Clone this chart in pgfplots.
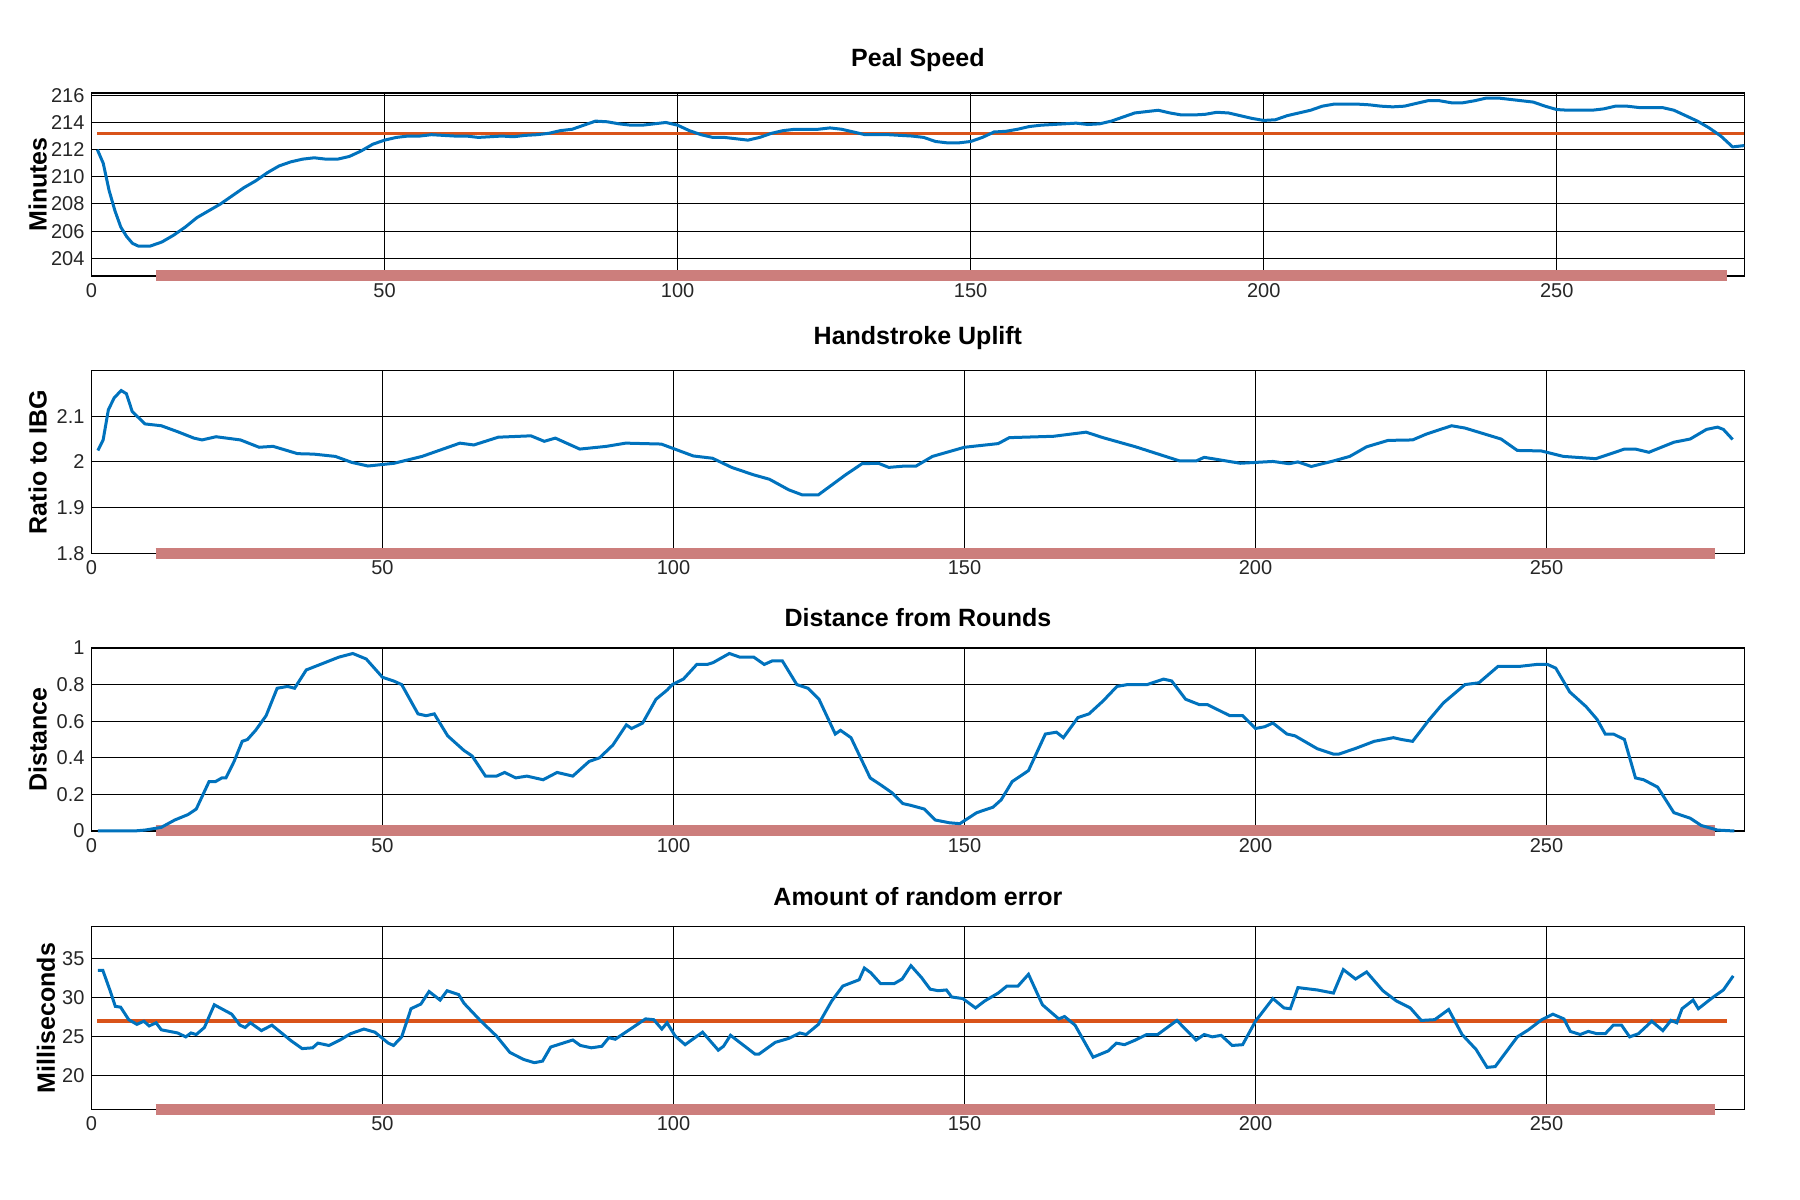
\documentclass[border=0pt]{standalone}
\usepackage{pgfplots}
\pgfplotsset{compat=1.18}
\usepackage{fontspec}
\setmainfont{Liberation Sans}
\definecolor{bl}{RGB}{0,114,189}
\definecolor{orng}{RGB}{217,83,25}
\definecolor{rbar}{RGB}{204,126,124}
\pgfplotsset{
  panel/.style={
    scale only axis, width=826.4pt, height=91.5pt, anchor=south west,
    xmin=0, grid=major, major grid style={black, line width=0.5pt},
    axis line style={black, line width=0.6pt},
    major tick length=0pt, xtick={0,50,100,150,200,250},
    tick label style={font=\fontsize{10}{12}\selectfont, text=black!85},
    /pgf/number format/assume math mode=true,
    title style={font=\bfseries\fontsize{12.5}{14}\selectfont, at={(0.5,1)}, anchor=south, yshift=1pt},
    clip=false,
  },
  bluel/.style={color=bl, line width=1.5pt, no marks},
  orl/.style={color=orng, line width=1.8pt, no marks},
  redbar/.style={color=rbar, line width=5.5pt, no marks},
}
\begin{document}
\begin{tikzpicture}
\path[use as bounding box] (0,0) rectangle (900pt,600pt);
% Panel 1
\begin{axis}[panel, at={(45.75pt,462pt)}, xmax=282, ymin=202.7, ymax=216.17,
  ytick={204,206,208,210,212,214,216}, title={Peal Speed}, ylabel={Minutes},
  every axis y label/.style={at={(axis description cs:-0.0326,0.5)},rotate=90,anchor=center,font=\bfseries\fontsize{12.5}{14}\selectfont}]
\addplot[redbar] coordinates {(11,202.7) (279,202.7)};
\addplot[orl] coordinates {(1,213.2) (282,213.2)};
\addplot[bluel] coordinates {
(1,212)(2,211)(3,209)(4,207.5)(5,206.3)(6,205.6)(7,205.1)(8,204.9)(10,204.9)(12,205.2)(14,205.7)(16,206.3)(18,207)(20,207.5)(22,208)(24,208.6)(26,209.2)(28,209.7)(30,210.3)(32,210.8)(34,211.1)(36,211.3)(38,211.4)(40,211.3)(42,211.3)(44,211.5)(46,211.9)(48,212.4)(50,212.7)(52,212.9)(54,213.0)(56,213.0)(58,213.1)(60,213.05)(62,213.0)(64,213.0)(66,212.9)(68,212.95)(70,213.0)(72,212.95)(74,213.05)(76,213.1)(78,213.2)(80,213.4)(82,213.5)(84,213.8)(86,214.1)(88,214.05)(90,213.9)(92,213.8)(94,213.8)(96,213.9)(98,214.0)(100,213.8)(102,213.4)(104,213.1)(106,212.9)(108,212.9)(110,212.8)(112,212.7)(114,212.9)(116,213.2)(118,213.4)(120,213.5)(122,213.5)(124,213.5)(126,213.6)(128,213.5)(130,213.3)(132,213.1)(134,213.1)(136,213.1)(138,213.05)(140,213.0)(142,212.9)(144,212.6)(146,212.5)(148,212.5)(150,212.6)(152,212.9)(154,213.3)(156,213.35)(158,213.5)(160,213.7)(162,213.8)(164,213.85)(166,213.9)(168,213.95)(170,213.85)(172,213.9)(174,214.1)(176,214.4)(178,214.7)(180,214.8)(182,214.9)(184,214.7)(186,214.55)(188,214.55)(190,214.6)(192,214.75)(194,214.7)(196,214.5)(198,214.3)(200,214.15)(202,214.2)(204,214.5)(206,214.7)(208,214.9)(210,215.2)(212,215.35)(214,215.35)(216,215.35)(218,215.3)(220,215.2)(222,215.15)(224,215.2)(226,215.4)(228,215.6)(230,215.6)(232,215.45)(234,215.45)(236,215.6)(238,215.8)(240,215.8)(242,215.7)(244,215.6)(246,215.5)(248,215.2)(250,214.95)(252,214.9)(254,214.9)(256,214.9)(258,215.0)(260,215.2)(262,215.2)(264,215.1)(266,215.1)(268,215.1)(270,214.9)(272,214.5)(274,214.1)(276,213.6)(278,213.0)(280,212.2)(282,212.3)};
\end{axis}
% Panel 2
\begin{axis}[panel, at={(45.75pt,323.3pt)}, xmax=284, ymin=1.8, ymax=2.2,
  ytick={1.8,1.9,2,2.1}, yticklabels={1.8,1.9,2,2.1}, title={Handstroke Uplift}, ylabel={Ratio to IBG},
  every axis y label/.style={at={(axis description cs:-0.0326,0.5)},rotate=90,anchor=center,font=\bfseries\fontsize{12.5}{14}\selectfont}]
\addplot[redbar] coordinates {(11,1.8) (279,1.8)};
\addplot[bluel] coordinates {
(1.1,2.025)(2,2.048)(2.9,2.114)(3.9,2.14)(5.1,2.156)(6,2.149)(7,2.11)(9.2,2.083)(12,2.079)(14.8,2.066)(17.6,2.052)(19,2.048)(21.4,2.055)(25.6,2.048)(28.8,2.032)(31.2,2.034)(35.4,2.018)(38.2,2.017)(41.9,2.012)(44.7,1.999)(47.5,1.991)(52,1.997)(56.8,2.012)(63.3,2.041)(65.7,2.037)(69.9,2.054)(75.5,2.057)(77.8,2.045)(79.7,2.052)(83.9,2.028)(88.5,2.034)(91.8,2.041)(97.9,2.039)(103.4,2.013)(106.7,2.008)(110,1.988)(113.7,1.972)(116.5,1.962)(119.8,1.939)(122.1,1.928)(124.9,1.928)(129.6,1.972)(132.4,1.996)(135.2,1.997)(137,1.988)(139.8,1.991)(141.7,1.991)(144.5,2.012)(150,2.032)(155.8,2.04)(157.7,2.053)(165.3,2.056)(170.9,2.065)(173.8,2.053)(179.4,2.033)(187,2.002)(189.8,2.002)(191.2,2.010)(197.4,1.997)(203,2.001)(205.8,1.996)(207.3,2.0)(209.6,1.99)(213.4,2.002)(216.2,2.012)(219.1,2.033)(222.8,2.047)(227,2.048)(229.4,2.061)(233.7,2.079)(236,2.074)(242.2,2.05)(245,2.025)(249.1,2.024)(252.9,2.012)(258.5,2.007)(263.4,2.028)(265.3,2.028)(267.6,2.021)(271.9,2.043)(274.7,2.05)(277.5,2.071)(279.4,2.076)(280.4,2.071)(282,2.049)};
\end{axis}
% Panel 3
\begin{axis}[panel, at={(45.75pt,184.5pt)}, xmax=284, ymin=0, ymax=1,
  ytick={0,0.2,0.4,0.6,0.8,1}, yticklabels={0,0.2,0.4,0.6,0.8,1}, title={Distance from Rounds}, ylabel={Distance},
  every axis y label/.style={at={(axis description cs:-0.0326,0.5)},rotate=90,anchor=center,font=\bfseries\fontsize{12.5}{14}\selectfont}]
\addplot[redbar] coordinates {(11,0) (279,0)};
\addplot[bluel] coordinates {
(1.1,0)(7.3,0)(9.2,0.005)(12,0.02)(14.3,0.06)(16.6,0.09)(18,0.12)(20.2,0.27)(21.3,0.27)(22.4,0.29)(23.1,0.29)(24.5,0.38)(25.9,0.49)(26.8,0.50)(28.2,0.55)(30,0.63)(31.9,0.78)(33.7,0.79)(34.9,0.78)(36.9,0.88)(39.3,0.91)(42.5,0.95)(44.9,0.97)(47.2,0.94)(50,0.84)(51.9,0.82)(53.3,0.80)(56.1,0.64)(57.5,0.63)(58.9,0.64)(61.2,0.52)(64,0.44)(65.4,0.41)(67.7,0.30)(69.6,0.30)(71,0.32)(72.9,0.29)(74.8,0.30)(77.6,0.28)(80,0.32)(82.7,0.30)(85.5,0.38)(87.3,0.40)(89.6,0.47)(91.9,0.58)(92.8,0.56)(94.7,0.59)(97,0.72)(98.9,0.77)(99.8,0.80)(101.7,0.83)(104,0.91)(105.8,0.91)(106.8,0.92)(109.6,0.97)(111.4,0.95)(113.8,0.95)(115.6,0.91)(117,0.93)(118.7,0.93)(121.2,0.80)(123.1,0.78)(125,0.72)(127.8,0.53)(128.7,0.55)(130.5,0.51)(133.8,0.29)(135.7,0.25)(137.5,0.21)(139.4,0.15)(140.8,0.14)(143.1,0.12)(145,0.06)(147.4,0.045)(149.2,0.04)(152.1,0.10)(154.9,0.13)(156.3,0.17)(158.2,0.27)(161,0.33)(163.9,0.53)(165.8,0.54)(167,0.51)(169.5,0.62)(171.4,0.64)(173.8,0.71)(176.2,0.79)(178,0.80)(181.4,0.80)(184.2,0.83)(185.6,0.82)(188,0.72)(190.4,0.69)(191.8,0.69)(195.6,0.63)(197.8,0.63)(200,0.56)(201.6,0.57)(203,0.59)(205.4,0.53)(206.8,0.52)(210.6,0.45)(213.4,0.42)(214.3,0.42)(217.1,0.45)(220.4,0.49)(223.7,0.51)(225.1,0.50)(227,0.49)(229.9,0.61)(232.3,0.70)(236,0.80)(238.4,0.81)(241.7,0.90)(245.5,0.90)(248.3,0.91)(250.2,0.91)(251.6,0.89)(254,0.76)(256.8,0.68)(258.7,0.61)(260.1,0.53)(261.5,0.53)(263.4,0.50)(265.3,0.29)(266.7,0.28)(269.1,0.24)(271.9,0.10)(274.7,0.07)(276.6,0.03)(279.4,0.005)(282.3,0)};
\end{axis}
% Panel 4
\begin{axis}[panel, at={(45.75pt,45.2pt)}, xmax=284, ymin=15.7, ymax=39.1,
  ytick={20,25,30,35}, title={Amount of random error}, ylabel={Milliseconds},
  every axis y label/.style={at={(axis description cs:-0.0275,0.5)},rotate=90,anchor=center,font=\bfseries\fontsize{12.5}{14}\selectfont}]
\addplot[redbar] coordinates {(11,15.7) (279,15.7)};
\addplot[orl] coordinates {(1,27.05) (281,27.05)};
\addplot[bluel] coordinates {
(1.1,33.5)(1.95,33.5)(3.2,30.9)(4.1,28.9)(5,28.8)(6.4,27.2)(7.8,26.6)(9,27.0)(9.9,26.4)(11.1,26.8)(12,25.9)(14.8,25.5)(16.2,25.0)(17.1,25.5)(18,25.3)(19.4,26.2)(21.1,29.1)(24.1,27.9)(25.5,26.5)(26.4,26.2)(27.3,26.8)(29.2,25.8)(31,26.5)(34.3,24.5)(36.2,23.5)(38,23.6)(38.9,24.2)(40.8,23.9)(42.7,24.6)(44.5,25.4)(46.8,26.0)(48.7,25.6)(51,24.2)(51.9,23.9)(53.3,25)(54.9,28.6)(56.6,29.2)(58,30.8)(59.9,29.7)(61.1,30.9)(63.1,30.4)(64,29.3)(66.8,27.1)(69.6,25.1)(71.9,23.0)(74.3,22.1)(76.1,21.7)(77.5,21.9)(78.9,23.7)(82.7,24.6)(84,23.9)(85.9,23.6)(87.7,23.8)(88.9,24.9)(90,24.7)(92.8,26.1)(95.2,27.3)(96.6,27.2)(98,26.0)(98.9,26.8)(100.3,25.1)(102,24.0)(105,25.6)(107.7,23.3)(108.6,23.8)(109.8,25.2)(114,22.8)(114.7,22.8)(117.5,24.3)(119.8,24.8)(121.7,25.5)(122.8,25.3)(124.9,26.6)(127.2,29.6)(129.1,31.5)(131.9,32.3)(132.8,33.8)(133.9,33.2)(135.6,31.8)(137.9,31.8)(139.3,32.4)(140.8,34.1)(142.6,32.6)(144.1,31.1)(145.5,30.9)(146.9,31.0)(147.8,30.1)(149.7,29.9)(151.9,28.7)(153.5,29.6)(155.8,30.6)(157.3,31.5)(159.2,31.5)(161,33.0)(163.4,29.1)(166.2,27.3)(167.2,27.6)(169,26.5)(172.1,22.4)(174.7,23.2)(176.1,24.2)(177.5,24.0)(179.4,24.6)(181.3,25.3)(183.2,25.3)(186.5,27.1)(189.8,24.6)(191.2,25.3)(192.6,25.0)(194.1,25.2)(196,23.9)(197.8,24.0)(200,27.0)(203,29.9)(204.9,28.7)(206,28.6)(207.3,31.3)(210.6,31.0)(213.4,30.6)(215.1,33.6)(217.2,32.4)(219.1,33.3)(221.9,30.9)(224.2,29.6)(226.6,28.7)(228.5,27.1)(230.8,27.2)(233.2,28.5)(235.5,25.3)(237.9,23.4)(239.8,21.1)(241.2,21.2)(242.6,22.6)(245,25.0)(246.9,25.9)(249.2,27.2)(251.1,27.9)(253,27.3)(254.1,25.7)(255.8,25.3)(257.2,25.7)(258.7,25.4)(260.1,25.4)(261.5,26.5)(262.9,26.5)(264.3,25.0)(265.8,25.4)(268.1,27.0)(270,25.8)(271.4,27.1)(272.4,26.8)(273.3,28.6)(275.2,29.7)(276.1,28.6)(278.5,30.0)(280.4,31.0)(282.1,32.8)};
\end{axis}
\end{tikzpicture}
\end{document}
